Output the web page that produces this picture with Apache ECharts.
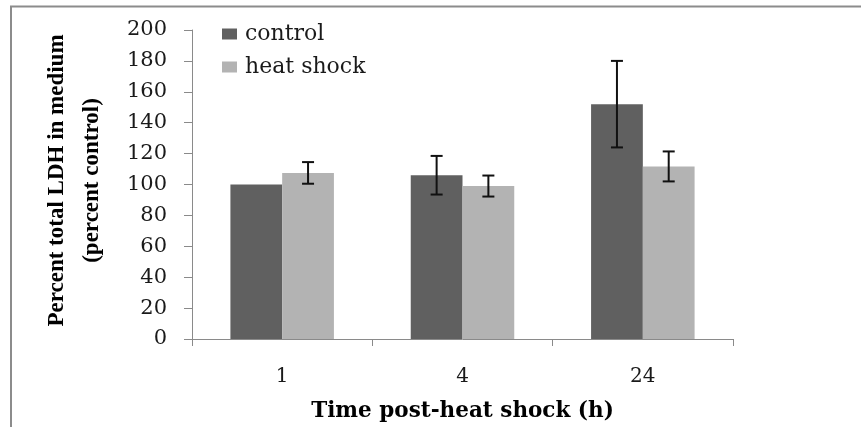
<!DOCTYPE html>
<html>
<head>
<meta charset="utf-8">
<script src="https://cdn.jsdelivr.net/npm/echarts@6/dist/echarts.min.js"></script>
<style>
  html, body { margin: 0; padding: 0; background: #fff; }
  #chart { width: 861px; height: 427px; }
</style>
</head>
<body>
<div id="chart"></div>
<script>
// Time points after heat shock (hours)
const categories = ['1', '4', '24'];
// Mean LDH released into medium, percent of control
const controlMeans = [100, 106, 152];
const heatShockMeans = [107.5, 99, 111.7];
// Error bar half-widths (0 = no error bar)
const controlErrors = [0, 12.5, 28];
const heatShockErrors = [7, 6.8, 9.7];
// Value axis ticks
const yMin = 0;
const yMax = 200;
const yStep = 20;

const BAR_CATEGORY_GAP = 0.426;

function errorData(means, errors) {
  const out = [];
  means.forEach((m, i) => {
    if (errors[i] > 0) out.push([i, m - errors[i], m + errors[i]]);
  });
  return out;
}

// side = -1 for the left bar of a pair, +1 for the right one
function makeErrorRenderer(side) {
  return function (params, api) {
    const idx = api.value(0);
    const lo = api.coord([idx, api.value(1)]);
    const hi = api.coord([idx, api.value(2)]);
    const band = api.size([1, 0])[0];
    const barW = band * (1 - BAR_CATEGORY_GAP) / 2;
    const x = lo[0] + side * barW / 2;
    const cap = 6;
    const style = { stroke: '#111', lineWidth: 2 };
    return {
      type: 'group',
      children: [
        { type: 'line', shape: { x1: x, y1: lo[1], x2: x, y2: hi[1] }, style },
        { type: 'line', shape: { x1: x - cap, y1: hi[1], x2: x + cap, y2: hi[1] }, style },
        { type: 'line', shape: { x1: x - cap, y1: lo[1], x2: x + cap, y2: lo[1] }, style }
      ]
    };
  };
}

const chart = echarts.init(document.getElementById('chart'), null, { renderer: 'canvas' });

const serif = 'DejaVu Serif';
const axisGrey = '#8a8a8a';

chart.setOption({
  backgroundColor: '#fff',
  animation: false,
  graphic: [
    {
      type: 'rect',
      shape: { x: 11, y: 6.5, width: 1000, height: 600 },
      style: { fill: 'none', stroke: '#8c8c8c', lineWidth: 2 },
      silent: true
    }
  ],
  legend: {
    orient: 'vertical',
    left: 217,
    top: 18,
    itemWidth: 15,
    itemHeight: 11,
    itemGap: 11,
    icon: 'rect',
    textStyle: { fontFamily: serif, fontSize: 22, lineHeight: 22, color: '#1a1a1a', padding: [0, 0, 0, 3] },
    data: ['control', 'heat shock']
  },
  grid: { left: 192, right: 128, top: 30, bottom: 84, containLabel: false },
  xAxis: {
    type: 'category',
    data: categories,
    boundaryGap: true,
    axisLine: { lineStyle: { color: axisGrey, width: 1 } },
    axisTick: { show: true, length: 7, lineStyle: { color: axisGrey } },
    axisLabel: { fontFamily: serif, fontSize: 20, color: '#1a1a1a', margin: 28 },
    name: 'Time post-heat shock (h)',
    nameLocation: 'middle',
    nameGap: 61,
    nameTextStyle: { fontFamily: serif, fontWeight: 'bold', fontSize: 21.5, color: '#000' }
  },
  yAxis: {
    type: 'value',
    min: yMin,
    max: yMax,
    interval: yStep,
    splitLine: { show: false },
    axisLine: { show: true, lineStyle: { color: axisGrey, width: 1 } },
    axisTick: { show: true, length: 8, lineStyle: { color: axisGrey } },
    axisLabel: { fontFamily: serif, fontSize: 21, color: '#1a1a1a', margin: 25 },
    name: 'Percent total LDH in medium\n(percent control)',
    nameLocation: 'middle',
    nameRotate: 90,
    nameGap: 82,
    nameTextStyle: {
      fontFamily: 'Liberation Serif',
      fontWeight: 'bold',
      fontSize: 23,
      lineHeight: 35,
      color: '#000',
      align: 'center',
      padding: [0, 0, 0, 8]
    }
  },
  series: [
    {
      name: 'control',
      type: 'bar',
      data: controlMeans,
      barGap: '0%',
      barCategoryGap: (BAR_CATEGORY_GAP * 100) + '%',
      itemStyle: { color: '#606060' }
    },
    {
      name: 'heat shock',
      type: 'bar',
      data: heatShockMeans,
      itemStyle: { color: '#b3b3b3' }
    },
    {
      name: 'control error',
      type: 'custom',
      renderItem: makeErrorRenderer(-1),
      encode: { x: 0, y: [1, 2] },
      data: errorData(controlMeans, controlErrors),
      z: 10
    },
    {
      name: 'heat shock error',
      type: 'custom',
      renderItem: makeErrorRenderer(1),
      encode: { x: 0, y: [1, 2] },
      data: errorData(heatShockMeans, heatShockErrors),
      z: 10
    }
  ]
});
</script>
</body>
</html>
